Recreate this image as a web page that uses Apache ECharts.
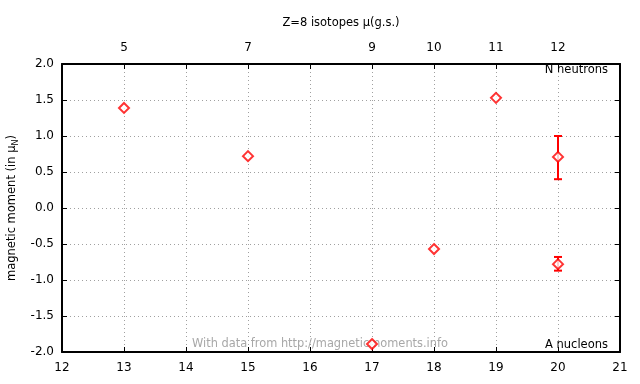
<!DOCTYPE html>
<html><head><meta charset="utf-8">
<script src="https://cdn.jsdelivr.net/npm/echarts@6/dist/echarts.min.js"></script>
<style>html,body{margin:0;padding:0;background:#fff}#c{width:640px;height:384px}</style>
</head><body><div id="c"></div>
<script>
var massNumbers = [13, 15, 17, 18, 19, 20, 20];
var moments = [1.39, 0.72, -1.89, -0.57, 1.53, 0.71, -0.78];
var errX = [20, 20];
var errLow = [0.40, -0.87];
var errHigh = [1.00, -0.68];
var neutronPositions = [13, 15, 17, 18, 19, 20];
var neutronLabels = ['5', '7', '9', '10', '11', '12'];

var FONT = 'DejaVu Sans';
var chart = echarts.init(document.getElementById('c'), null, {renderer: 'canvas'});
var pts = massNumbers.map(function (x, i) { return [x, moments[i]]; });
var errs = errX.map(function (x, i) { return [x, errLow[i], errHigh[i]]; });
var topMap = {};
neutronPositions.forEach(function (p, i) { topMap[p] = neutronLabels[i]; });

var gridLine = {show: true, lineStyle: {color: '#a0a0a0', type: [1, 3], width: 1}};
var axisLineStyle = {show: true, onZero: false, lineStyle: {color: '#000', width: 2}};
var tick = {inside: true, length: 5, lineStyle: {color: '#000'}};
var lbl = {color: '#000', fontFamily: FONT, fontSize: 12};

chart.setOption({
  animation: false,
  grid: {left: 62, right: 20, top: 64, bottom: 32, containLabel: false, outerBoundsMode: 'none'},
  xAxis: [
    {type: 'value', position: 'bottom', min: 12, max: 21, interval: 1,
      axisLine: axisLineStyle, axisTick: tick,
      axisLabel: Object.assign({margin: 10}, lbl), splitLine: gridLine},
    {type: 'value', position: 'top', min: 12, max: 21, interval: 1,
      name: 'Z=8 isotopes \u03bc(g.s.)', nameLocation: 'middle', nameGap: 35,
      nameTextStyle: {fontFamily: FONT, fontSize: 11.5, color: '#000'},
      axisLine: axisLineStyle, axisTick: tick,
      axisLabel: Object.assign({margin: 10, formatter: function (v) { return topMap[v] || ''; }}, lbl),
      splitLine: {show: false}}
  ],
  yAxis: [
    {type: 'value', position: 'left', min: -2, max: 2, interval: 0.5,
      name: 'magnetic moment (in \u03bc{s|N})', nameLocation: 'middle', nameGap: 38,
      nameTextStyle: {fontFamily: FONT, fontSize: 11.5, color: '#000',
        rich: {s: {fontFamily: FONT, fontSize: 8, color: '#000', padding: [7, 0, 0, 0]}}},
      axisLine: axisLineStyle, axisTick: tick,
      axisLabel: Object.assign({margin: 8, formatter: function (v) { return v.toFixed(1); }}, lbl),
      splitLine: gridLine},
    {type: 'value', position: 'right', min: -2, max: 2, interval: 0.5,
      axisLine: axisLineStyle, axisTick: tick,
      axisLabel: {show: false}, splitLine: {show: false}}
  ],
  graphic: [
    {type: 'text', right: 32, top: 64, style: {text: 'N neutrons', fontFamily: FONT, fontSize: 11.5, fill: '#000'}},
    {type: 'text', right: 32, top: 339, style: {text: 'A nucleons', fontFamily: FONT, fontSize: 11.5, fill: '#000'}},
    {type: 'text', left: 192, top: 339, z: 1, style: {text: 'With data from http://magneticmoments.info', fontFamily: FONT, fontSize: 11.4, fill: '#a8a8a8'}}
  ],
  series: [
    {type: 'custom', xAxisIndex: 0, yAxisIndex: 0, z: 5,
      renderItem: function (params, api) {
        var x = api.value(0);
        var lo = api.coord([x, api.value(1)]);
        var hi = api.coord([x, api.value(2)]);
        var cw = 4;
        var st = {stroke: '#ff0000', lineWidth: 2};
        return {type: 'group', children: [
          {type: 'line', shape: {x1: lo[0], y1: lo[1], x2: hi[0], y2: hi[1]}, style: st},
          {type: 'line', shape: {x1: lo[0] - cw, y1: lo[1], x2: lo[0] + cw, y2: lo[1]}, style: st},
          {type: 'line', shape: {x1: hi[0] - cw, y1: hi[1], x2: hi[0] + cw, y2: hi[1]}, style: st}
        ]};
      },
      data: errs},
    {type: 'scatter', xAxisIndex: 0, yAxisIndex: 0, z: 6, symbol: 'emptyDiamond', symbolSize: 10,
      itemStyle: {color: '#ff0000', borderColor: '#ff0000', borderWidth: 3.5},
      data: pts}
  ]
});
</script></body></html>
